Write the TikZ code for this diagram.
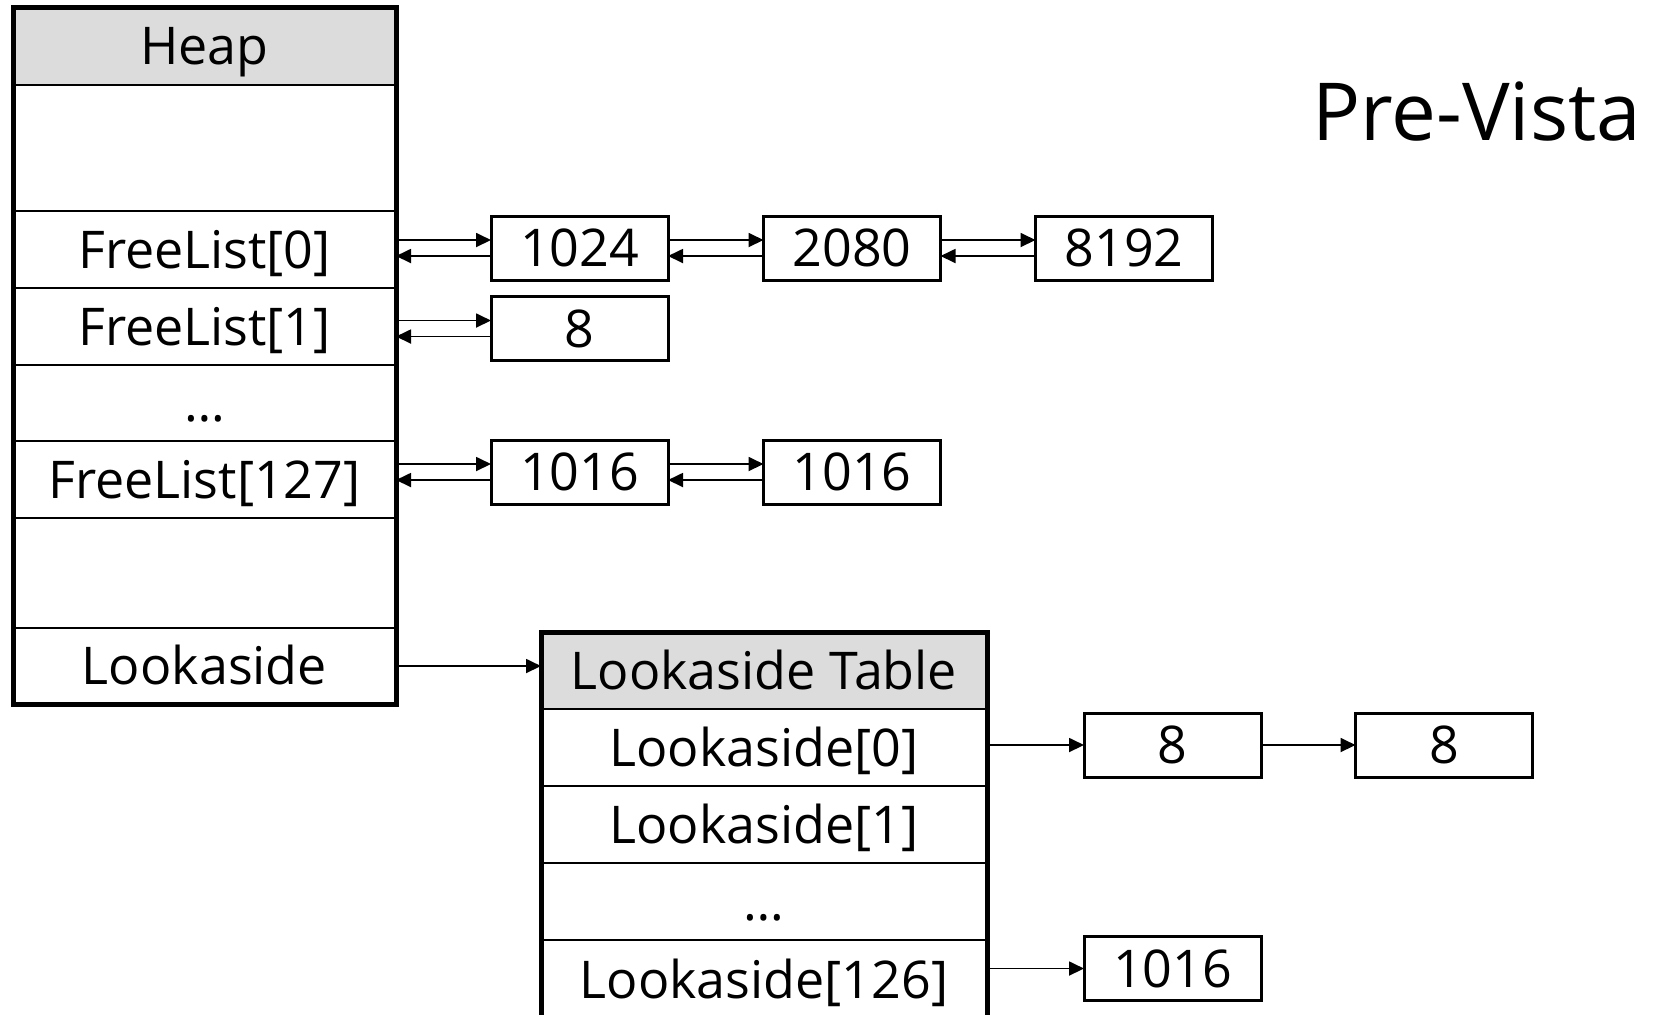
\documentclass[tikz,border=0pt]{standalone}
\usepackage{fontspec}
\setmainfont{Open Sans}
\usetikzlibrary{arrows.meta,calc}

\definecolor{headgray}{HTML}{DCDCDC}

\tikzset{
  cell/.style={draw, line width=1pt, inner sep=0pt, outer sep=0pt,
    text height=18.6pt, text depth=0pt, font=\fontsize{26}{30}\selectfont},
  heaprow/.style={cell, minimum width=191.5pt},
  tablerow/.style={cell, minimum width=223pt},
  chunk/.style={cell, line width=1.5pt, minimum width=88.5pt, minimum height=32pt},
  frame/.style={line width=2.5pt},
  ptr/.style={-{Triangle[length=7.5pt,width=7pt]}, line width=0.9pt},
}

\begin{document}
\begin{tikzpicture}[x=0.5pt,y=-0.5pt]
  \clip (0,0) rectangle (1657,1014);

  % heap
  \node[heaprow, fill=headgray, minimum height=39pt] (heap) at (204.5,46) {Heap};
  \node[heaprow, minimum height=63pt] (top) at (204.5,148) {};
  \node[heaprow, minimum height=38.5pt] (fl0) at (204.5,249.5) {FreeList[0]};
  \node[heaprow, minimum height=38.5pt] (fl1) at (204.5,326.5) {FreeList[1]};
  \node[heaprow, minimum height=38pt] (fldots) at (204.5,403) {…};
  \node[heaprow, minimum height=38.5pt] (fl127) at (204.5,479.5) {FreeList[127]};
  \node[heaprow, minimum height=55pt] (mid) at (204.5,573) {};
  \node[heaprow, minimum height=38pt] (look) at (204.5,666) {Lookaside};
  \draw[frame] (heap.north west) rectangle (look.south east);

  % free list chunks
  \node[chunk] (c1024) at (579.5,248) {1024};
  \node[chunk] (c2080) at (852,248) {2080};
  \node[chunk] (c8192) at (1124,248) {8192};
  \node[chunk] (c8) at (579.5,328.5) {8};
  \node[chunk] (c1016) at (579.5,472) {1016};
  \node[chunk] (c1016b) at (852,472) {1016};

  \foreach \a/\b in {fl0/c1024, c1024/c2080, c2080/c8192, fl1/c8, fl127/c1016, c1016/c1016b} {
    \draw[ptr] ($(\a.east |- \b.west)+(0,-8)$) -- ($(\b.west)+(0,-8)$);
    \draw[ptr] ($(\b.west)+(0,8)$) -- ($(\a.east |- \b.west)+(0,8)$);
  }

  % lookaside table
  \node[tablerow, fill=headgray, minimum height=38.5pt] (lt) at (764,670.5) {Lookaside Table};
  \node[tablerow, minimum height=38.5pt] (la0) at (764,747.5) {Lookaside[0]};
  \node[tablerow, minimum height=38.5pt] (la1) at (764,824.5) {Lookaside[1]};
  \node[tablerow, minimum height=38.5pt] (ladots) at (764,901.5) {…};
  \node[tablerow, minimum height=40pt] (la126) at (764,980) {Lookaside[126]};
  \draw[frame] (lt.north west) rectangle (la126.south east);

  \draw[ptr] (look.east) -- (look.east -| lt.west);

  % lookaside chunks
  \node[chunk] (l8a) at (1172.5,745) {8};
  \node[chunk] (l8b) at (1444,745) {8};
  \node[chunk] (l1016) at (1172.5,968.5) {1016};
  \draw[ptr] (la0.east |- l8a.west) -- (l8a.west);
  \draw[ptr] (l8a.east) -- (l8b.west);
  \draw[ptr] (la126.east |- l1016.west) -- (l1016.west);

  \node[font=\fontsize{40}{46}\selectfont, anchor=base west, inner sep=0pt] (title) at (1312,140) {Pre-Vista};
\end{tikzpicture}
\end{document}
